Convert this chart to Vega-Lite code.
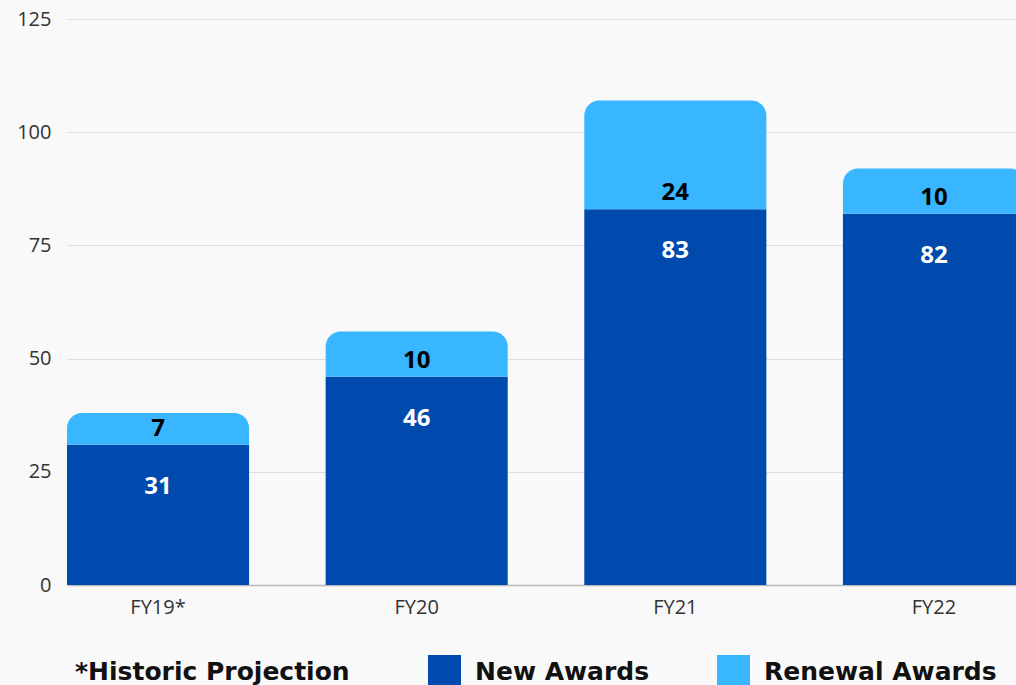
{
  "$schema": "https://vega.github.io/schema/vega-lite/v6.json",
  "autosize": "none",
  "padding": {"left": 67, "top": 19, "right": 0, "bottom": 100},
  "width": 958,
  "height": 566,
  "background": "#f9f9f9",
  "config": {
    "view": {"stroke": null},
    "font": "Open Sans"
  },
  "data": {
    "values": [
      {"year": "FY19*", "type": "New Awards", "value": 31},
      {"year": "FY19*", "type": "Renewal Awards", "value": 7},
      {"year": "FY20", "type": "New Awards", "value": 46},
      {"year": "FY20", "type": "Renewal Awards", "value": 10},
      {"year": "FY21", "type": "New Awards", "value": 83},
      {"year": "FY21", "type": "Renewal Awards", "value": 24},
      {"year": "FY22", "type": "New Awards", "value": 82},
      {"year": "FY22", "type": "Renewal Awards", "value": 10}
    ]
  },
  "transform": [
    {"stack": "value", "groupby": ["year"], "sort": [{"field": "type", "order": "ascending"}], "as": ["v0", "v1"]}
  ],
  "encoding": {
    "x": {
      "field": "year", "type": "nominal", "sort": ["FY19*", "FY20", "FY21", "FY22"],
      "scale": {"paddingInner": 0.296, "paddingOuter": 0},
      "axis": {
        "title": null, "labelAngle": 0, "ticks": false, "domain": true,
        "domainColor": "#bbbbbb", "domainWidth": 1.5,
        "labelFontSize": 20, "labelColor": "#333333", "labelPadding": 12,
        "labelFont": "Open Sans"
      }
    }
  },
  "layer": [
    {
      "transform": [{"filter": "datum.type == 'New Awards'"}],
      "mark": {"type": "bar"},
      "encoding": {
        "y": {
          "field": "v1", "type": "quantitative",
          "scale": {"domain": [0, 125], "nice": false},
          "axis": {
            "title": null, "values": [0, 25, 50, 75, 100, 125], "ticks": false, "domain": false,
            "gridColor": "#dddddd", "gridWidth": 1.2,
            "labelFontSize": 20, "labelColor": "#333333", "labelPadding": 16,
            "labelFont": "Open Sans"
          }
        },
        "y2": {"field": "v0"},
        "color": {
          "field": "type", "type": "nominal",
          "scale": {"domain": ["New Awards", "Renewal Awards"], "range": ["#004aad", "#38b6ff"]},
          "legend": {
            "orient": "none", "legendX": 8, "legendY": 636,
            "direction": "horizontal",
            "title": "*Historic Projection", "titleOrient": "left",
            "titleFontSize": 25, "titleFontWeight": "bold", "titleColor": "#111111",
            "titleFont": "DejaVu Sans", "titlePadding": 78, "titleBaseline": "middle",
            "titleLimit": 500,
            "symbolType": "square", "symbolSize": 1089, "symbolStrokeWidth": 0,
            "symbolOpacity": 1,
            "labelFontSize": 25, "labelFontWeight": "bold", "labelColor": "#111111",
            "labelFont": "DejaVu Sans", "labelOffset": 14, "columnPadding": 67,
            "labelLimit": 400
          }
        }
      }
    },
    {
      "transform": [{"filter": "datum.type == 'Renewal Awards'"}],
      "mark": {"type": "bar", "cornerRadiusTopLeft": 15, "cornerRadiusTopRight": 15},
      "encoding": {
        "y": {"field": "v1", "type": "quantitative"},
        "y2": {"field": "v0"},
        "color": {"field": "type", "type": "nominal"}
      }
    },
    {
      "transform": [{"filter": "datum.type == 'New Awards'"}],
      "mark": {"type": "text", "baseline": "top", "dy": 30, "fontSize": 24, "fontWeight": "bold", "color": "#ffffff", "font": "Open Sans"},
      "encoding": {
        "y": {"field": "v1", "type": "quantitative"},
        "text": {"field": "value", "type": "quantitative"}
      }
    },
    {
      "transform": [{"filter": "datum.type == 'Renewal Awards'"}],
      "mark": {"type": "text", "baseline": "bottom", "dy": -4, "fontSize": 24, "fontWeight": "bold", "color": "#000000", "font": "Open Sans"},
      "encoding": {
        "y": {"field": "v0", "type": "quantitative"},
        "text": {"field": "value", "type": "quantitative"}
      }
    }
  ]
}
